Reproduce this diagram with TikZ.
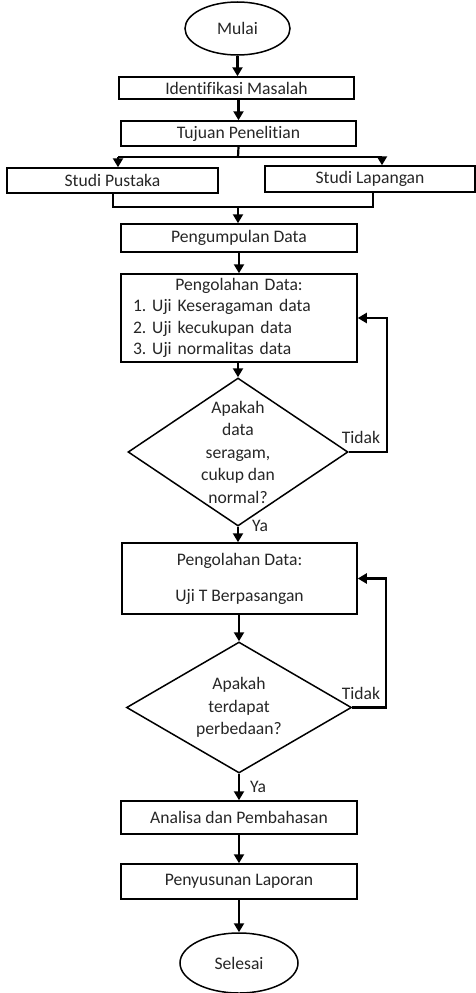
\documentclass[tikz,border=0pt]{standalone}
\usepackage{fontspec}
\setmainfont{Carlito}[Ligatures={NoCommon,NoContextual}]
\usetikzlibrary{shapes.geometric,arrows.meta}
\frenchspacing
\begin{document}
\begin{tikzpicture}[x=1pt,y=-1pt,
  every node/.style={font=\fontsize{17.6}{22.5}\selectfont, text=black!85},
  box/.style={draw, line width=1.5pt, rectangle, inner sep=0pt},
  term/.style={draw, line width=1.5pt, ellipse, inner sep=0pt},
  dec/.style={draw, line width=1.5pt, diamond, inner sep=0pt},
  ln/.style={line width=2.2pt},
  arr/.style={line width=2.2pt, -{Triangle[width=10pt,length=9pt]}},
  lbl/.style={inner sep=0pt}
]
\useasboundingbox (0,0) rectangle (476,993);

\node[term, minimum width=105pt, minimum height=53pt] (start) at (237.5,28.5) {Mulai};
\node[box, minimum width=235pt, minimum height=22pt] (ident) at (236.5,88) {Identifikasi Masalah};
\node[box, minimum width=235pt, minimum height=25pt] (tuj) at (238.5,133.5) {Tujuan Penelitian};
\node[box, minimum width=211pt, minimum height=25pt] (sp) at (112.5,180.5) {Studi Pustaka};
\node[box, minimum width=210pt, minimum height=26pt] (sl) at (370,179) {Studi Lapangan};
\node[box, minimum width=236pt, minimum height=28pt] (pg) at (239,238) {Pengumpulan Data};
\node[box, minimum width=236pt, minimum height=88pt, text width=212pt, inner xsep=12pt, align=left,
      font=\fontsize{17.6}{21.5}\selectfont] (p1) at (239,318)
  {\makebox[212pt]{Pengolahan Data:}\\1. Uji Keseragaman data\\2. Uji kecukupan data\\3. Uji normalitas data};
\node[dec, minimum width=220pt, minimum height=148pt] (d1) at (238,452) {};
\node[align=center, inner sep=0pt] (d1t) at (d1.center) {Apakah\\data\\seragam,\\cukup dan\\normal?};
\node[box, minimum width=235pt, minimum height=71pt, align=center] (p2) at (239.5,578.5)
  {Pengolahan Data:\\[13.5pt]Uji T Berpasangan};
\node[dec, minimum width=225pt, minimum height=131pt] (d2) at (239,707.5) {};
\node[align=center, inner sep=0pt] (d2t) at (d2.center) {Apakah\\terdapat\\perbedaan?};
\node[box, minimum width=236pt, minimum height=33pt] (an) at (239,817.5) {Analisa dan Pembahasan};
\node[box, minimum width=236pt, minimum height=35pt] (py) at (239,881.5) {Penyusunan Laporan};
\node[term, minimum width=118pt, minimum height=60pt] (end) at (239,963) {Selesai};

\node[lbl] (t1) at (361,437) {Tidak};
\node[lbl] (y1) at (260,526) {Ya};
\node[lbl] (t2) at (361,693) {Tidak};
\node[lbl] (y2) at (258,787) {Ya};

% main flow
\draw[arr] (start.south) -- (start.south |- ident.north);
\draw[arr] (ident.south -| tuj.north) -- (tuj.north);
\coordinate (j1) at (238,157);
\coordinate (jl) at (118,157);
\coordinate (jr) at (382,157);
\draw[ln] (tuj.south) -- (j1);
\draw[ln] (jl) -- (jr);
\draw[arr] (jl) -- (jl |- sp.north);
\draw[arr] (jr) -- (jr |- sl.north);
\coordinate (bl) at (113,207);
\coordinate (br) at (373,207);
\coordinate (bm) at (238,207);
\draw[ln, line join=miter] (bl |- sp.south) -- (bl) -- (br) -- (br |- sl.south);
\draw[arr] (bm) -- (bm |- pg.north);
\draw[arr] (pg.south) -- (p1.north);
\draw[arr] (p1.south -| d1.north) -- (d1.north);
\draw[arr] (d1.south) -- (d1.south |- p2.north);
\draw[arr] (p2.south -| d2.north) -- (d2.north);
\draw[arr] (d2.south) -- (d2.south |- an.north);
\draw[arr] (an.south) -- (py.north);
\draw[arr] (py.south) -- (end.north);

% feedback loops
\coordinate (f1) at (387,452);
\draw[arr, line join=miter] (d1.east) -- (f1) |- (p1.east);
\coordinate (f2) at (386,707.5);
\draw[arr, line join=miter] (d2.east) -- (f2) |- (p2.east);
\end{tikzpicture}
\end{document}
